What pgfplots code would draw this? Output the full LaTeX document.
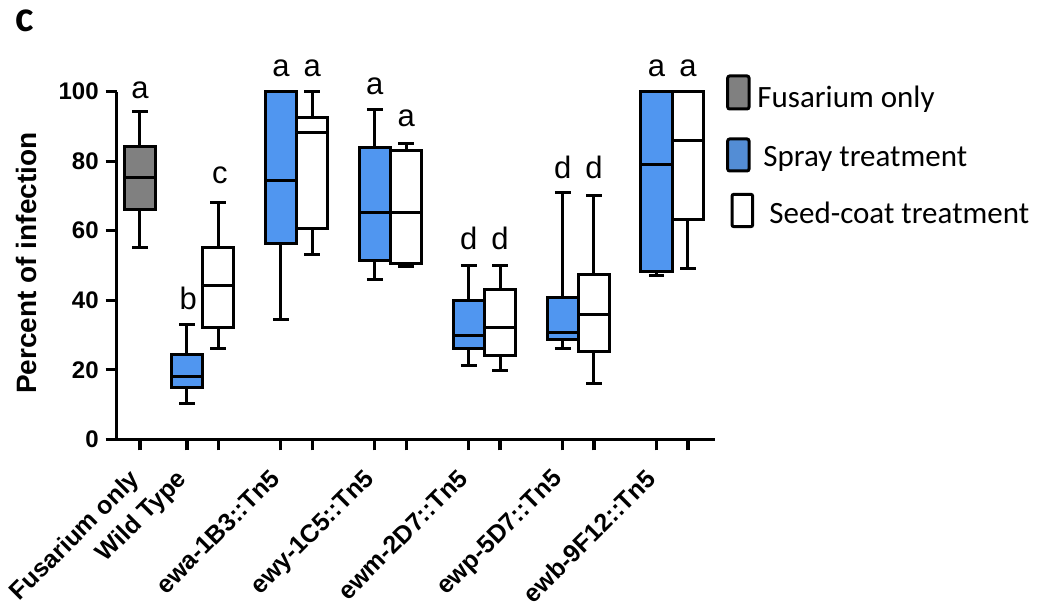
\documentclass[border=0pt]{standalone}
\usepackage{fontspec}
\setmainfont{Liberation Sans}
\newfontfamily\calibri{Carlito}
\usepackage{pgfplots}
\pgfplotsset{compat=1.18}
\usepgfplotslibrary{statistics}
\definecolor{sprayblue}{RGB}{80,150,240}
\definecolor{fusgray}{RGB}{128,128,128}
\definecolor{legblue}{RGB}{83,141,213}
\begin{document}
\begin{tikzpicture}[x=1pt,y=1pt]
\path[use as bounding box] (-58.35,-84.35) rectangle (462.65,219.65);
\begin{axis}[
  scale only axis, width=299.15pt, height=173.8pt,
  xmin=-0.744, xmax=18.365, ymin=0, ymax=100,
  axis x line=bottom, axis y line=left,
  axis line style={line width=1.6pt,-},
  every tick/.style={black, line width=1.6pt},
  tick align=outside, major tick length=5.5pt,
  ytick={0,20,...,100},
  xtick={0,1.5,4.5,7.5,10.5,13.5,16.5},
  xticklabels={Fusarium only, Wild Type, ewa-1B3::Tn5, ewy-1C5::Tn5, ewm-2D7::Tn5, ewp-5D7::Tn5, ewb-9F12::Tn5},
  extra x ticks={2.5,5.5,8.5,11.5,14.5,17.5},
  extra x tick labels={},
  extra x tick style={grid=none},
  /pgf/number format/assume math mode=true,
  yticklabel style={font=\bfseries\fontsize{12}{14}\selectfont},
  xticklabel style={yshift=-8.5pt, xshift=-6pt, font=\bfseries\fontsize{12.5}{14}\selectfont, rotate=45, anchor=north east, inner sep=0pt},
  ylabel={Percent of infection},
  ylabel style={font=\bfseries\fontsize{14}{16}\selectfont, at={(axis description cs:-0.15,0.507)}, anchor=center},
  clip=false,
  boxplot/draw direction=y,
  boxplot/box extend=1, boxplot/whisker extend=0.5,
  every axis plot/.append style={line width=1.5pt, draw=black},
]
% Fusarium only
\addplot[fill=fusgray, boxplot prepared={draw position=0, lower whisker=55.1, lower quartile=66.1, median=75.3, upper quartile=84.2, upper whisker=94.2}] coordinates {};
% Wild type
\addplot[fill=sprayblue, boxplot prepared={draw position=1.5, lower whisker=10.4, lower quartile=15.0, median=18.2, upper quartile=24.5, upper whisker=33.1}] coordinates {};
\addplot[fill=white, boxplot prepared={draw position=2.5, lower whisker=26.1, lower quartile=32.2, median=44.2, upper quartile=55.1, upper whisker=68.1}] coordinates {};
% ewa
\addplot[fill=sprayblue, boxplot prepared={draw position=4.5, lower whisker=34.6, lower quartile=56.3, median=74.4, upper quartile=100, upper whisker=100}] coordinates {};
\addplot[fill=white, boxplot prepared={draw position=5.5, lower whisker=53.2, lower quartile=60.5, median=88.3, upper quartile=92.6, upper whisker=100}] coordinates {};
% ewy
\addplot[fill=sprayblue, boxplot prepared={draw position=7.5, lower whisker=46.0, lower quartile=51.3, median=65.2, upper quartile=83.9, upper whisker=95.0}] coordinates {};
\addplot[fill=white, boxplot prepared={draw position=8.5, lower whisker=49.7, lower quartile=50.6, median=65.2, upper quartile=83.2, upper whisker=85.2}] coordinates {};
% ewm
\addplot[fill=sprayblue, boxplot prepared={draw position=10.5, lower whisker=21.2, lower quartile=26.1, median=30.0, upper quartile=39.8, upper whisker=49.9}] coordinates {};
\addplot[fill=white, boxplot prepared={draw position=11.5, lower whisker=19.9, lower quartile=24.0, median=32.1, upper quartile=43.0, upper whisker=49.9}] coordinates {};
% ewp
\addplot[fill=sprayblue, boxplot prepared={draw position=13.5, lower whisker=26.1, lower quartile=28.8, median=30.7, upper quartile=40.7, upper whisker=71.1}] coordinates {};
\addplot[fill=white, boxplot prepared={draw position=14.5, lower whisker=16.1, lower quartile=25.4, median=35.8, upper quartile=47.3, upper whisker=70.1}] coordinates {};
% ewb
\addplot[fill=sprayblue, boxplot prepared={draw position=16.5, lower whisker=47.0, lower quartile=48.2, median=79.1, upper quartile=100, upper whisker=100}] coordinates {};
\addplot[fill=white, boxplot prepared={draw position=17.5, lower whisker=49.0, lower quartile=63.1, median=86.1, upper quartile=100, upper whisker=100}] coordinates {};
% significance letters
\begin{scope}[every node/.style={font=\fontsize{15.5}{18}\selectfont, anchor=base, inner sep=0pt}]
\node at (axis cs:0,98.1) {a};
\node at (axis cs:1.54,37.4) {b};
\node at (axis cs:2.55,73.6) {c};
\node at (axis cs:4.5,104.5) {a};
\node at (axis cs:5.5,104.5) {a};
\node at (axis cs:7.5,99.2) {a};
\node at (axis cs:8.5,89.9) {a};
\node at (axis cs:10.5,54.5) {d};
\node at (axis cs:11.5,54.5) {d};
\node at (axis cs:13.5,74.9) {d};
\node at (axis cs:14.5,74.9) {d};
\node at (axis cs:16.5,104.5) {a};
\node at (axis cs:17.5,104.5) {a};
\end{scope}
\end{axis}
% legend
\draw[line width=1.5pt, rounded corners=1pt, fill=fusgray] (305.5,165.15) rectangle (316.15,181.65);
\draw[line width=1.5pt, rounded corners=1pt, fill=legblue] (305.5,134.15) rectangle (316.15,150.15);
\draw[line width=1.5pt, rounded corners=1pt, fill=white] (307.65,106.3) rectangle (318,122.5);
\begin{scope}[every node/.style={font=\calibri\fontsize{15.5}{18}\selectfont, anchor=base west, inner sep=0pt}]
\node at (320.15,165.8) {Fusarium only};
\node at (323.15,136.3) {Spray treatment};
\node at (326.15,107.65) {Seed-coat treatment};
\end{scope}
% panel label
\node[font=\calibri\bfseries\fontsize{22}{26}\selectfont, inner sep=0pt] at (-45.85,209.15) {c};
\end{tikzpicture}
\end{document}
